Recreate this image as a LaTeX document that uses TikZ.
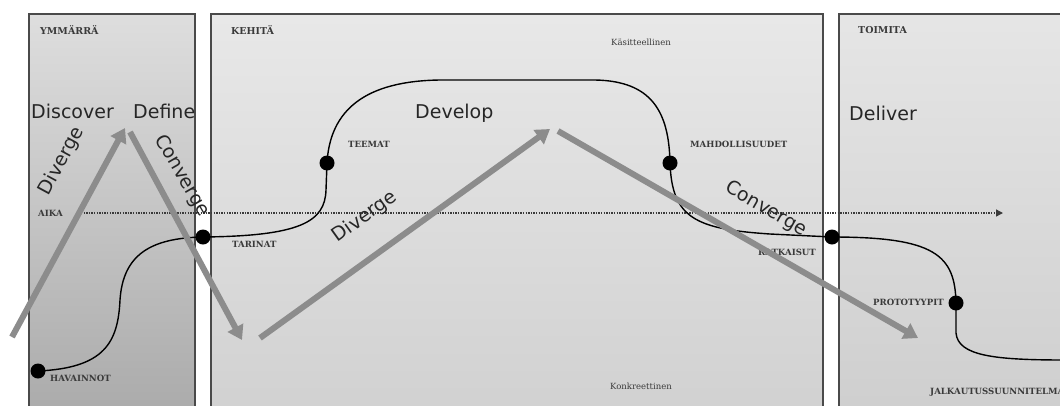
\documentclass[tikz,border=0pt]{standalone}
\usepackage{fontspec}
\setmainfont{DejaVu Serif}
\newfontfamily\phasefont{DejaVu Sans}
\usetikzlibrary{arrows.meta}
\definecolor{frame}{HTML}{4A4A4A}
\definecolor{ink}{HTML}{3A3A3A}
\definecolor{flowgray}{HTML}{8C8C8C}
\begin{document}
\begin{tikzpicture}[x=1pt,y=-1pt,
  panel/.style={draw=frame,line width=1.3pt},
  heading/.style={anchor=west,inner sep=0pt,text=ink,font=\fontsize{9.5}{11}\selectfont\bfseries},
  stage/.style={anchor=west,inner sep=0pt,text=ink,font=\fontsize{8.6}{10}\selectfont\bfseries},
  pole/.style={inner sep=0pt,text=ink,font=\fontsize{8.5}{10}\selectfont},
  phase/.style={inner sep=0pt,text=black!85,font=\phasefont\fontsize{19}{22}\selectfont},
  dot/.style={circle,fill=black,minimum size=15pt,inner sep=0pt},
  curve/.style={draw=black,line width=1.4pt},
  flow/.style={draw=flowgray,line width=6pt,-{Triangle[length=14pt,width=17pt]}},
  timeline/.style={draw=ink,line width=1.3pt,dash pattern=on 1.3pt off 1.3pt,
    -{Triangle[length=7pt,width=7pt,sep=-1pt]}}]
\useasboundingbox (0,0) rectangle (1060,405);
\clip (0,0) rectangle (1060,405);
\fill[white] (0,0) rectangle (1060,405);

% three phase panels
\shade[top color=black!13,bottom color=black!33] (29,14) rectangle (195,412);
\draw[panel] (29,14) rectangle (195,412);
\shade[top color=black!9,bottom color=black!18] (211,14) rectangle (823,412);
\draw[panel] (211,14) rectangle (823,412);
\shade[top color=black!10,bottom color=black!19] (839,14) rectangle (1070,412);
\draw[panel] (839,14) rectangle (1070,412);

\node[heading] (ymmarra) at (40,30) {YMMÄRRÄ};
\node[heading] (kehita) at (231,30) {KEHITÄ};
\node[heading] (toimita) at (858,30) {TOIMITA};
\node[pole] (kasit) at (641,42) {Käsitteellinen};
\node[pole] (konkr) at (641,386) {Konkreettinen};

% time axis
\node[stage] (aika) at (38,213) {AIKA};
\coordinate (axisstart) at (81,213);
\coordinate (axisend) at (1002,213);
\draw[timeline] (axisstart) -- (axisend);

% milestones
\node[dot] (havainnot) at (38,371) {};
\node[dot] (tarinat) at (203,237) {};
\node[dot] (teemat) at (327,163) {};
\node[dot] (mahd) at (670,163) {};
\node[dot] (ratkaisut) at (832,237) {};
\node[dot] (proto) at (956,303) {};
\coordinate (curveend) at (1065,360);

\draw[curve] (havainnot.center)
  .. controls (105,368) and (118,342) .. (120,300)
  .. controls (123,255) and (150,238) .. (tarinat.center)
  .. controls (300,236) and (325,222) .. (326,190)
  -- (teemat.center)
  .. controls (330,110) and (365,81) .. (440,80)
  -- (595,80)
  .. controls (652,81) and (669,112) .. (mahd.center)
  .. controls (672,218) and (695,229) .. (770,234)
  -- (ratkaisut.center)
  .. controls (935,237) and (955,255) .. (proto.center)
  -- (956,333)
  .. controls (958,356) and (995,360) .. (curveend);

\node[stage] (havainnot-l) at (50,378) {HAVAINNOT};
\node[stage] (tarinat-l) at (232,244) {TARINAT};
\node[stage] (teemat-l) at (348,144) {TEEMAT};
\node[stage] (mahd-l) at (690,144) {MAHDOLLISUUDET};
\node[stage] (ratkaisut-l) at (758,252) {RATKAISUT};
\node[stage] (proto-l) at (873,302) {PROTOTYYPIT};
\node[stage] (jalk-l) at (930,392) {JALKAUTUSSUUNNITELMA};

% diverge / converge movements
\coordinate (d1s) at (12,337);
\coordinate (d1e) at (125,128);
\coordinate (c1s) at (130,132);
\coordinate (c1e) at (242,340);
\coordinate (d2s) at (260,338);
\coordinate (d2e) at (550,129);
\coordinate (c2s) at (558,131);
\coordinate (c2e) at (918,338);
\draw[flow] (d1s) -- (d1e);
\draw[flow] (c1s) -- (c1e);
\draw[flow] (d2s) -- (d2e);
\draw[flow] (c2s) -- (c2e);

\node[phase,anchor=west] (discover) at (31,111) {Discover};
\node[phase,anchor=west] (define) at (133,111) {Define};
\node[phase,anchor=west] (develop) at (415,113) {Develop};
\node[phase,anchor=west] (deliver) at (849,113) {Deliver};

\node[phase,rotate=61.6] (div1) at (62,161) {Diverge};
\node[phase,rotate=-60] (conv1) at (182,176) {Converge};
\node[phase,rotate=35.6] (div2) at (365,217) {Diverge};
\node[phase,rotate=-30] (conv2) at (766,209) {Converge};
\end{tikzpicture}
\end{document}
